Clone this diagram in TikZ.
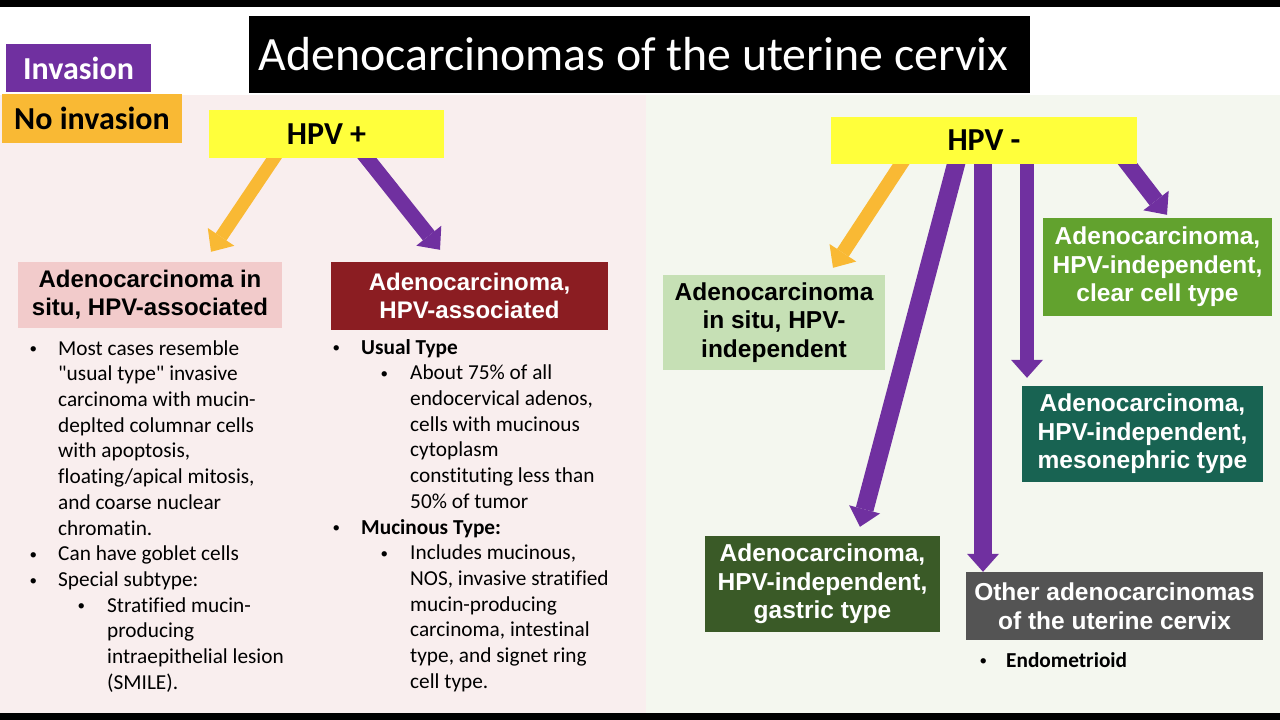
\documentclass[tikz,border=0pt]{standalone}
\usepackage{fontspec}
\setmainfont{Carlito}[Ligatures=NoCommon]
\newfontfamily\plainfont{Carlito}[Ligatures=NoCommon]
\newfontfamily\arialfont{Liberation Sans}
\usetikzlibrary{arrows.meta,calc}
\pgfdeclarelayer{back}
\pgfdeclarelayer{arrowlayer}
\pgfsetlayers{back,arrowlayer,main}

\definecolor{purp}{HTML}{7030A0}
\definecolor{orng}{HTML}{F9B934}
\definecolor{yell}{HTML}{FFFF3B}
\definecolor{pinkbg}{HTML}{F9EEEE}
\definecolor{greenbg}{HTML}{F4F7EF}
\definecolor{pinkbox}{HTML}{F2CBCB}
\definecolor{darkredbox}{HTML}{8B1D22}
\definecolor{lightgreenbox}{HTML}{C6E0B5}
\definecolor{midgreenbox}{HTML}{62A22E}
\definecolor{tealbox}{HTML}{186352}
\definecolor{gastricbox}{HTML}{3A5A27}
\definecolor{greybox}{HTML}{545454}

\newcommand\smallbul{\raisebox{1.2pt}{\fontsize{15}{15}\selectfont\textbullet}}
\newcommand\bulA{\makebox[30pt][l]{\hspace*{1.5pt}\smallbul}}
\newcommand\indA{\hspace*{30pt}}
\newcommand\bulB{\hspace*{48pt}\makebox[31pt][l]{\hspace*{1.5pt}\smallbul}}
\newcommand\indB{\hspace*{79pt}}

\tikzset{
  hdrbox/.style={inner sep=0pt, align=center,
    font=\arialfont\bfseries\fontsize{24}{28}\selectfont},
  hdrboxR/.style={inner sep=0pt, align=center,
    font=\arialfont\bfseries\fontsize{24.5}{28.5}\selectfont},
  legendbox/.style={inner sep=0pt, align=center,
    font=\bfseries\fontsize{32}{36}\selectfont},
  hpvbox/.style={inner sep=0pt, align=center, fill=yell,
    font=\bfseries\fontsize{32}{36}\selectfont},
  listtxt/.style={inner sep=0pt, anchor=north west,
    font=\fontsize{21.3}{25.7}\selectfont},
  arr/.style={line width=#1, -{Triangle[width=32pt,length=18pt,line width=0pt]}},
}

\begin{document}
\begin{tikzpicture}[x=1pt,y=-1pt]
\useasboundingbox (0,0) rectangle (1280,720);

\begin{pgfonlayer}{back}
  \fill[white] (0,0) rectangle (1280,720);
  \fill[black] (0,0) rectangle (1280,7);
  \fill[black] (0,713) rectangle (1280,720);
  \fill[pinkbg] (0,95) rectangle (646,713);
  \fill[greenbg] (646,95) rectangle (1280,713);
\end{pgfonlayer}

% title and legend
\node[fill=black, text=white, inner sep=0pt, minimum width=781pt, minimum height=77pt,
      font=\fontsize{47.8}{57}\selectfont] (title) at (639.5,54.5)
      {Adenocarcinomas of the uterine cervix\hspace*{12pt}};
\node[legendbox, fill=purp, text=white, minimum width=145pt, minimum height=48pt] (inv) at (78.5,68) {Invasion};
\node[legendbox, fill=orng, text=black, minimum width=180pt, minimum height=49pt] (noinv) at (92,118.5) {No invasion};

% HPV boxes
\node[hpvbox, minimum width=235pt, minimum height=48pt] (hpvp) at (326.5,134) {HPV +};
\node[hpvbox, minimum width=306pt, minimum height=47pt] (hpvm) at (984,140.5) {HPV -};

% category boxes
\node[hdrbox, fill=pinkbox, text=black, minimum width=264pt, minimum height=66pt] (aisp) at (150,295)
  {Adenocarcinoma in\\situ, HPV-associated};
\node[hdrbox, fill=darkredbox, text=white, minimum width=277pt, minimum height=68pt] (adp) at (469.5,296)
  {Adenocarcinoma,\\HPV-associated};
\node[hdrboxR, fill=lightgreenbox, text=black, minimum width=222pt, minimum height=95pt] (aisn) at (774,322.5)
  {Adenocarcinoma\\in situ, HPV-\\independent};
\node[hdrboxR, fill=midgreenbox, text=white, minimum width=229pt, minimum height=98pt] (clear) at (1157.5,267)
  {Adenocarcinoma,\\HPV-independent,\\clear cell type};
\node[hdrboxR, fill=tealbox, text=white, minimum width=241pt, minimum height=96pt] (meso) at (1142.5,434)
  {Adenocarcinoma,\\HPV-independent,\\mesonephric type};
\node[hdrboxR, fill=gastricbox, text=white, minimum width=235pt, minimum height=96pt] (gastric) at (822.5,584)
  {Adenocarcinoma,\\HPV-independent,\\gastric type};
\node[hdrboxR, fill=greybox, text=white, minimum width=297pt, minimum height=68pt] (other) at (1114.5,606)
  {Other adenocarcinomas\\of the uterine cervix};

% lists
\node[listtxt] (leftlist) at (28,337) {\begin{tabular}{@{}l@{}}
\bulA Most cases resemble\\
\indA {\plainfont"usual type"} invasive\\
\indA carcinoma with mucin-\\
\indA deplted columnar cells\\
\indA with apoptosis,\\
\indA floating/apical mitosis,\\
\indA and coarse nuclear\\
\indA chromatin.\\
\bulA Can have goblet cells\\
\bulA Special subtype:\\
\bulB Stratified mucin-\\
\indB producing\\
\indB intraepithelial lesion\\
\indB (SMILE).
\end{tabular}};

\node[listtxt] (midlist) at (331,336) {\begin{tabular}{@{}l@{}}
\bulA \textbf{Usual Type}\\
\bulB About 75\% of all\\
\indB endocervical adenos,\\
\indB cells with mucinous\\
\indB cytoplasm\\
\indB constituting less than\\
\indB 50\% of tumor\\
\bulA \textbf{Mucinous Type:}\\
\bulB Includes mucinous,\\
\indB NOS, invasive stratified\\
\indB mucin-producing\\
\indB carcinoma, intestinal\\
\indB type, and signet ring\\
\indB cell type.
\end{tabular}};

\node[listtxt] (otherlist) at (978,649) {\begin{tabular}{@{}l@{}}
\makebox[28pt][l]{\hspace*{1.5pt}\smallbul}\textbf{Endometrioid}
\end{tabular}};

% arrows
\coordinate (s1) at ($(hpvp.south)+(-52.5,0)$);
\coordinate (t1) at ($(aisp.north)+(61,-10)$);
\coordinate (s2) at ($(hpvp.south)+(40.5,0)$);
\coordinate (t2) at ($(adp.north)+(-29.5,-12)$);
\coordinate (s3) at ($(hpvm.south)+(-83,0)$);
\coordinate (t3) at ($(aisn.north)+(59,-7)$);
\coordinate (s4) at ($(hpvm.south)+(-28,0)$);
\coordinate (t4) at ($(gastric.north)+(37.5,-9)$);
\coordinate (s5) at ($(hpvm.south)+(-1,0)$);
\coordinate (t5) at ($(other.north)+(-131.5,0)$);
\coordinate (s6) at ($(hpvm.south)+(43,0)$);
\coordinate (t6) at ($(meso.north)+(-115.5,-8)$);
\coordinate (s7) at ($(hpvm.south)+(144,0)$);
\coordinate (t7) at ($(clear.north)+(9.5,-3)$);

\begin{pgfonlayer}{arrowlayer}
  \draw[arr=13pt, orng] ($(s1)!-10pt!(t1)$) -- (t1);
  \draw[arr=15pt, purp] ($(s2)!-10pt!(t2)$) -- (t2);
  \draw[arr=14pt, orng] ($(s3)!-10pt!(t3)$) -- (t3);
  \draw[arr=18pt, purp] ($(s4)!-10pt!(t4)$) -- (t4);
  \draw[arr=18pt, purp] ($(s5)!-10pt!(t5)$) -- (t5);
  \draw[arr=14pt, purp] ($(s6)!-10pt!(t6)$) -- (t6);
  \draw[arr=16pt, purp] ($(s7)!-10pt!(t7)$) -- (t7);
\end{pgfonlayer}
\end{tikzpicture}
\end{document}
